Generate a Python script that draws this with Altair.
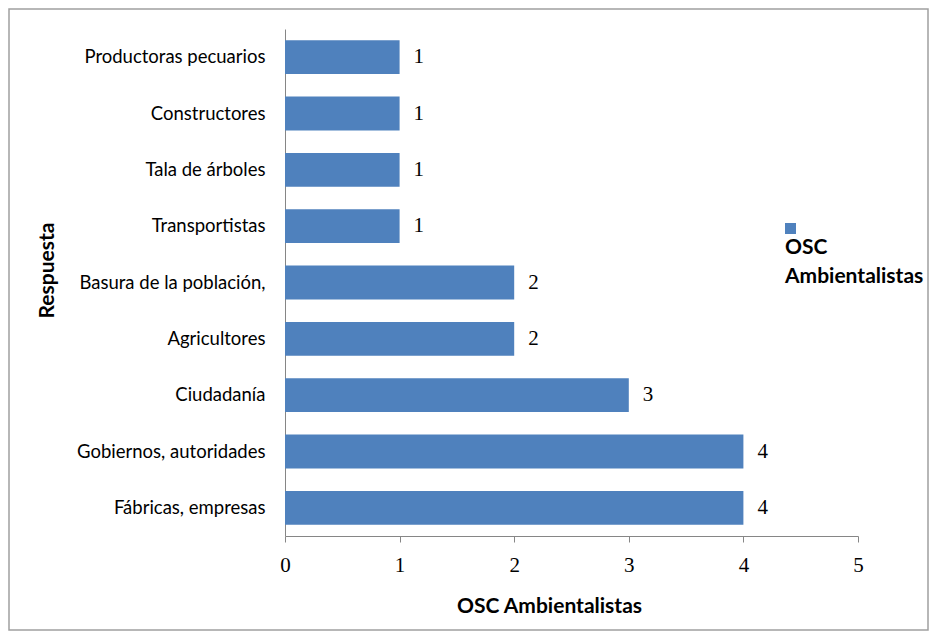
import altair as alt
import pandas as pd

categorias = ["Productoras pecuarios", "Constructores", "Tala de árboles", "Transportistas",
              "Basura de la población,", "Agricultores", "Ciudadanía",
              "Gobiernos, autoridades", "Fábricas, empresas"]
valores = [1, 1, 1, 1, 2, 2, 3, 4, 4]
serie = "OSC Ambientalistas"
serie_lineas = ["OSC", "Ambientalistas"]
ticks_x = [0, 1, 2, 3, 4, 5]

df = pd.DataFrame({"Respuesta": categorias, "valor": valores, "serie": [serie] * len(categorias)})

W, H = 573, 507
PL, PT, PR, PB = 277, 21, 71, 95

base = alt.Chart(df)

y_enc = alt.Y("Respuesta:N", sort=categorias,
              scale=alt.Scale(paddingInner=0.4, paddingOuter=0.2),
              axis=alt.Axis(title="Respuesta", labelFont="Lato", labelFontSize=18.5,
                            labelColor="#000000", labelPadding=20, labelLimit=300, ticks=False,
                            domainColor="#868686", titleFont="Lato", titleFontSize=21,
                            titleFontWeight="bold", titleAngle=-90, titleX=-238, titleY=241,
                            titleAlign="center", titleBaseline="middle", titleColor="#000000"))
x_enc = alt.X("valor:Q", scale=alt.Scale(domain=[0, 5]),
              axis=alt.Axis(title="OSC Ambientalistas", values=ticks_x, format="d",
                            labelFont="Liberation Serif", labelFontSize=21, labelColor="#000000",
                            labelPadding=12, labelFlush=False, tickSize=6, tickColor="#868686",
                            domainColor="#868686", grid=False, titleFont="Lato",
                            titleFontSize=21, titleFontWeight="bold", titleColor="#000000",
                            titleX=264, titleY=70, titleBaseline="middle"))

bars = base.mark_bar(color="#4F81BD").encode(
    x=x_enc, y=y_enc,
    color=alt.Color("serie:N", scale=alt.Scale(range=["#4F81BD"]),
                    legend=alt.Legend(title=serie_lineas, titleOrient="bottom",
                                      titleFont="Lato", titleFontSize=21, titleFontWeight="bold",
                                      titleColor="#000000", titleLineHeight=29, titlePadding=3,
                                      titleAnchor="start", titleLimit=400,
                                      orient="none", legendX=500, legendY=194,
                                      symbolType="square", symbolSize=121,
                                      symbolStrokeWidth=0, symbolOpacity=1,
                                      labelExpr="''", labelFontSize=1))
)

labels = base.mark_text(align="left", baseline="middle", dx=14, font="Liberation Serif",
                        fontSize=21, color="#000000").encode(
    x="valor:Q", y=alt.Y("Respuesta:N", sort=categorias), text="valor:Q"
)

frame = alt.Chart(pd.DataFrame({"k": [0]})).mark_rect(fill=None, stroke="#A0A0A0", strokeWidth=1.5).encode(
    x=alt.value(-PL + 1), x2=alt.value(W + PR - 1), y=alt.value(-PT + 1), y2=alt.value(H + PB - 1)
)

chart = alt.layer(frame, bars, labels).properties(
    width=W, height=H,
    autosize=alt.AutoSizeParams(type="none"),
    padding={"left": PL, "top": PT, "right": PR, "bottom": PB},
).configure(background="#FFFFFF").configure_view(stroke="transparent", strokeWidth=0)

chart.save("out.html", embed_options={"renderer": "svg", "actions": False})
